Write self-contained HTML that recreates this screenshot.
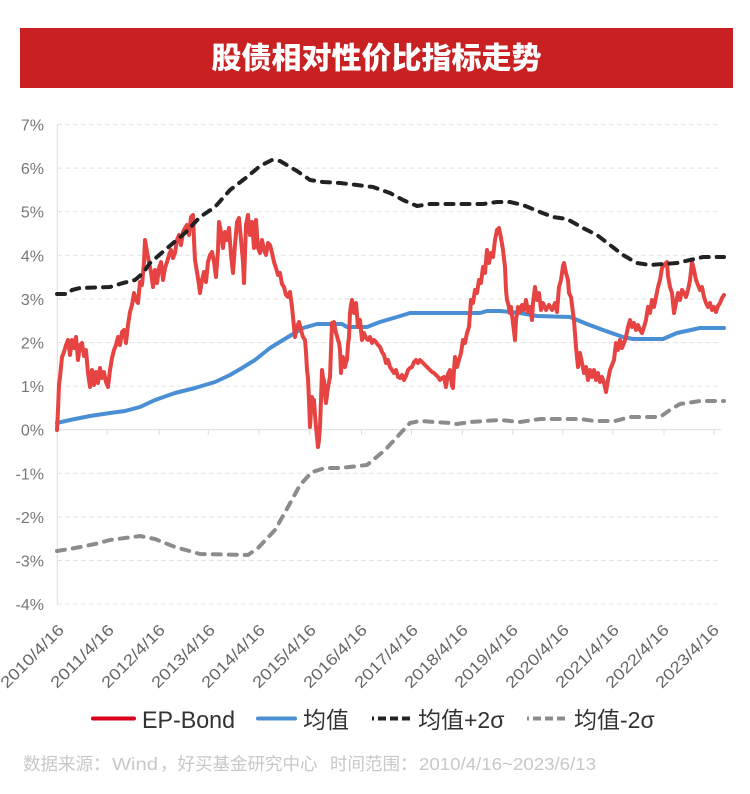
<!DOCTYPE html>
<html>
<head>
<meta charset="utf-8">
<style>
html,body{margin:0;padding:0;background:#fff;}
body{width:750px;height:794px;overflow:hidden;}
svg{display:block;}
text{font-family:"Liberation Sans","Noto Sans CJK SC",sans-serif;}
</style>
</head>
<body>
<svg width="750" height="794" viewBox="0 0 750 794" xmlns="http://www.w3.org/2000/svg">
  <!-- Title -->
  <rect x="20" y="28" width="713" height="60" fill="#c92121"/>
  <text x="376.5" y="68.5" text-anchor="middle" font-size="30" font-weight="900" fill="#fff" style="font-family:'Noto Sans CJK SC','Liberation Sans',sans-serif;" textLength="330" lengthAdjust="spacingAndGlyphs">股债相对性价比指标走势</text>

  <!-- Gridlines -->
  <g stroke="#e3e3e3" stroke-width="1" stroke-dasharray="5 3">
    <line x1="57" y1="124.5" x2="721" y2="124.5"/>
    <line x1="57" y1="168.1" x2="721" y2="168.1"/>
    <line x1="57" y1="211.7" x2="721" y2="211.7"/>
    <line x1="57" y1="255.3" x2="721" y2="255.3"/>
    <line x1="57" y1="298.9" x2="721" y2="298.9"/>
    <line x1="57" y1="342.5" x2="721" y2="342.5"/>
    <line x1="57" y1="386.1" x2="721" y2="386.1"/>
    <line x1="57" y1="473.3" x2="721" y2="473.3"/>
    <line x1="57" y1="516.9" x2="721" y2="516.9"/>
    <line x1="57" y1="560.5" x2="721" y2="560.5"/>
    <line x1="57" y1="604.1" x2="721" y2="604.1"/>
  </g>
  <!-- Axis lines -->
  <line x1="57.3" y1="124" x2="57.3" y2="604.5" stroke="#dcdcdc" stroke-width="1"/>
  <line x1="57" y1="429.7" x2="721" y2="429.7" stroke="#dcdcdc" stroke-width="1"/>
  <g stroke="#dcdcdc" stroke-width="1">
    <line x1="57.3" y1="429.7" x2="57.3" y2="435"/>
    <line x1="107.3" y1="429.7" x2="107.3" y2="435"/>
    <line x1="159.3" y1="429.7" x2="159.3" y2="435"/>
    <line x1="208.3" y1="429.7" x2="208.3" y2="435"/>
    <line x1="259" y1="429.7" x2="259" y2="435"/>
    <line x1="309.5" y1="429.7" x2="309.5" y2="435"/>
    <line x1="361.5" y1="429.7" x2="361.5" y2="435"/>
    <line x1="411.5" y1="429.7" x2="411.5" y2="435"/>
    <line x1="462.3" y1="429.7" x2="462.3" y2="435"/>
    <line x1="512.7" y1="429.7" x2="512.7" y2="435"/>
    <line x1="562.7" y1="429.7" x2="562.7" y2="435"/>
    <line x1="612.7" y1="429.7" x2="612.7" y2="435"/>
    <line x1="664" y1="429.7" x2="664" y2="435"/>
    <line x1="714" y1="429.7" x2="714" y2="435"/>
  </g>

  <!-- Y labels -->
  <g font-size="16" fill="#777" text-anchor="end">
    <text x="44" y="130.5">7%</text>
    <text x="44" y="174.1">6%</text>
    <text x="44" y="217.7">5%</text>
    <text x="44" y="261.3">4%</text>
    <text x="44" y="304.9">3%</text>
    <text x="44" y="348.5">2%</text>
    <text x="44" y="392.1">1%</text>
    <text x="44" y="435.7">0%</text>
    <text x="44" y="479.3">-1%</text>
    <text x="44" y="522.9">-2%</text>
    <text x="44" y="566.5">-3%</text>
    <text x="44" y="610.1">-4%</text>
  </g>

  <!-- X labels -->
  <g font-size="16" fill="#666" text-anchor="end">
    <text x="65" y="631" transform="rotate(-45 65 631)" textLength="82" lengthAdjust="spacingAndGlyphs">2010/4/16</text>
    <text x="115" y="631" transform="rotate(-45 115 631)" textLength="82" lengthAdjust="spacingAndGlyphs">2011/4/16</text>
    <text x="166" y="631" transform="rotate(-45 166 631)" textLength="82" lengthAdjust="spacingAndGlyphs">2012/4/16</text>
    <text x="216" y="631" transform="rotate(-45 216 631)" textLength="82" lengthAdjust="spacingAndGlyphs">2013/4/16</text>
    <text x="266" y="631" transform="rotate(-45 266 631)" textLength="82" lengthAdjust="spacingAndGlyphs">2014/4/16</text>
    <text x="317" y="631" transform="rotate(-45 317 631)" textLength="82" lengthAdjust="spacingAndGlyphs">2015/4/16</text>
    <text x="368" y="631" transform="rotate(-45 368 631)" textLength="82" lengthAdjust="spacingAndGlyphs">2016/4/16</text>
    <text x="419" y="631" transform="rotate(-45 419 631)" textLength="82" lengthAdjust="spacingAndGlyphs">2017/4/16</text>
    <text x="469" y="631" transform="rotate(-45 469 631)" textLength="82" lengthAdjust="spacingAndGlyphs">2018/4/16</text>
    <text x="519" y="631" transform="rotate(-45 519 631)" textLength="82" lengthAdjust="spacingAndGlyphs">2019/4/16</text>
    <text x="570" y="631" transform="rotate(-45 570 631)" textLength="82" lengthAdjust="spacingAndGlyphs">2020/4/16</text>
    <text x="620" y="631" transform="rotate(-45 620 631)" textLength="82" lengthAdjust="spacingAndGlyphs">2021/4/16</text>
    <text x="670" y="631" transform="rotate(-45 670 631)" textLength="82" lengthAdjust="spacingAndGlyphs">2022/4/16</text>
    <text x="720" y="631" transform="rotate(-45 720 631)" textLength="82" lengthAdjust="spacingAndGlyphs">2023/4/16</text>
  </g>

  <!-- Mean (blue) -->
  <polyline fill="none" stroke="#4a8fd4" stroke-width="4" stroke-linejoin="round" stroke-linecap="round"
    points="57,423 70,420 90,416 110,413 125,411 140,407 155,400 175,393 195,388 215,382 230,375 242,368 255,360 270,348 283,340 303,328 317,324 342,324 347,327 367,327 380,322 397,317 410,313 480,313 487,311 500,311 520,313 537,316 570,317 587,324 603,330 623,337 633,339 663,339 677,333 700,328 724,328"/>

  <!-- EP-Bond (red) -->
  <polyline fill="none" stroke="#e64343" stroke-width="4" stroke-linejoin="round" stroke-linecap="round"
    points="57,430 58,410 59,385 60,377 62,357 64,352 66,345 68,340 70,355 72,340 74,348 76,337 78,360 80,345 82,343 84,356 86,350 88,373 90,387 92,370 94,385 96,372 98,383 100,368 102,378 104,372 106,382 108,387 110,370 112,358 114,350 116,345 118,337 120,345 122,332 124,330 126,343 128,325 130,312 132,305 134,293 136,300 138,303 140,282 142,285 144,262 145,240 147,252 149,262 151,272 153,287 155,270 157,283 159,268 161,262 163,280 165,268 167,262 169,255 171,250 173,258 175,253 177,240 179,235 181,245 183,232 185,228 187,225 189,235 191,217 193,215 194,240 195,260 197,272 199,285 200,293 202,280 204,272 206,282 208,262 210,255 212,252 214,262 216,277 218,250 219,222 221,232 223,248 225,232 227,240 229,228 231,255 233,273 235,245 237,222 239,218 241,240 243,262 244,283 246,225 248,215 250,235 252,222 254,248 256,220 258,248 260,253 262,240 264,250 266,255 268,243 270,245 272,253 274,262 276,268 278,275 280,273 282,284 284,287 286,295 288,297 290,292 292,307 293,317 295,337 297,327 299,322 301,330 303,337 305,340 306,352 307,370 308,378 309,400 310,427 311,410 312,397 313,402 314,400 315,415 316,427 317,437 318,447 319,440 320,427 321,400 322,370 323,378 324,380 325,395 326,403 327,395 328,387 329,382 330,377 331,350 332,323 333,325 334,322 335,328 336,333 337,336 338,340 339,343 340,350 341,373 342,362 343,357 344,365 345,367 346,362 347,360 348,345 349,337 350,313 351,305 352,300 353,308 354,313 355,306 356,303 357,315 358,327 359,322 360,320 361,330 362,340 364,333 366,338 368,340 370,337 372,343 374,340 376,342 378,345 380,347 382,352 384,355 386,363 388,360 390,367 392,370 394,373 396,370 398,377 400,378 402,375 404,380 406,376 408,370 410,368 412,367 414,362 416,360 418,363 420,360 422,362 424,364 426,366 428,368 430,370 432,372 434,373 436,375 438,377 440,380 442,378 444,377 446,387 448,374 450,370 452,386 453,388 454,370 455,357 457,367 459,360 461,353 463,340 465,343 467,333 469,327 471,300 473,303 475,290 477,293 479,280 481,283 483,267 485,273 487,250 489,263 491,253 493,257 495,240 497,230 499,228 501,238 503,250 505,267 506,290 507,300 508,303 510,313 511,307 513,323 515,340 516,320 518,307 520,312 522,305 524,310 526,300 528,312 530,307 532,320 533,303 535,287 537,300 539,293 541,310 543,303 546,310 549,305 552,310 555,303 557,312 559,287 561,280 563,266 564,263 566,273 568,280 569,293 571,297 573,313 574,320 576,347 578,367 580,353 582,363 584,373 586,367 588,380 590,370 592,377 594,370 596,380 598,373 600,382 602,377 604,383 606,392 608,380 610,370 612,365 614,360 616,343 618,350 620,340 622,348 624,343 626,337 628,327 630,320 632,327 634,323 636,330 638,325 640,330 642,333 644,327 646,320 648,307 650,313 652,300 654,307 656,297 658,287 660,280 662,268 664,265 666,263 667,262 668,276 670,287 672,293 674,313 676,303 678,293 680,300 682,290 684,293 686,297 688,290 690,280 692,262 694,270 696,280 698,285 700,290 702,287 704,297 706,303 708,307 710,303 712,310 714,307 716,312 718,306 720,303 722,298 724,295"/>

  <!-- Mean + 2σ (black dashed) -->
  <polyline fill="none" stroke="#222" stroke-width="4" stroke-linejoin="round" stroke-linecap="round" stroke-dasharray="8 8"
    points="57,294 68,294 72,290 80,288 110,287 123,283 135,280 143,273 150,263 165,250 185,233 200,217 215,207 230,190 247,177 260,166 272,160 280,161 297,171 310,180 323,182 340,183 357,185 373,187 390,193 403,200 417,206 430,204 483,204 497,202 510,202 523,205 540,212 553,217 567,219 583,228 597,235 610,245 623,255 637,263 650,265 677,263 690,260 703,257 724,257"/>

  <!-- Mean - 2σ (gray dashed) -->
  <polyline fill="none" stroke="#8c8c8c" stroke-width="4" stroke-linejoin="round" stroke-linecap="round" stroke-dasharray="8 8"
    points="57,551 75,548 95,544 110,540 140,536 155,539 175,547 200,554 248,555 258,548 275,530 288,507 300,485 312,472 325,468 340,468 367,465 385,450 410,423 420,421 450,423 457,424 470,422 500,420 520,422 540,419 580,419 595,421 615,421 630,417 660,417 670,410 680,404 700,401 724,401"/>

  <!-- Legend -->
  <line x1="93" y1="718.5" x2="134" y2="718.5" stroke="#d9001b" stroke-width="4" stroke-linecap="round"/>
  <text x="142" y="728" font-size="24" fill="#333" textLength="93" lengthAdjust="spacingAndGlyphs">EP-Bond</text>
  <line x1="258" y1="718.5" x2="295" y2="718.5" stroke="#4a8fd4" stroke-width="4" stroke-linecap="round"/>
  <text x="303" y="728" font-size="23" fill="#333">均值</text>
  <line x1="372" y1="718.5" x2="410" y2="718.5" stroke="#222" stroke-width="4" stroke-dasharray="2 4 8 4 8 4 8"/>
  <text x="418" y="728" font-size="23" fill="#333">均值+2σ</text>
  <line x1="527" y1="718.5" x2="566" y2="718.5" stroke="#8c8c8c" stroke-width="4" stroke-dasharray="2 4 8 4 8 4 8"/>
  <text x="574" y="728" font-size="23" fill="#333">均值-2σ</text>

  <!-- Footer -->
  <g font-size="17.5" fill="#c8c8c8">
    <text x="23" y="770">数据来源：</text>
    <text x="112" y="770" textLength="46" lengthAdjust="spacingAndGlyphs">Wind</text>
    <text x="160" y="770">，好买基金研究中心</text>
    <text x="330" y="770">时间范围：</text>
    <text x="419" y="770" textLength="177" lengthAdjust="spacingAndGlyphs">2010/4/16~2023/6/13</text>
  </g>
</svg>
</body>
</html>
